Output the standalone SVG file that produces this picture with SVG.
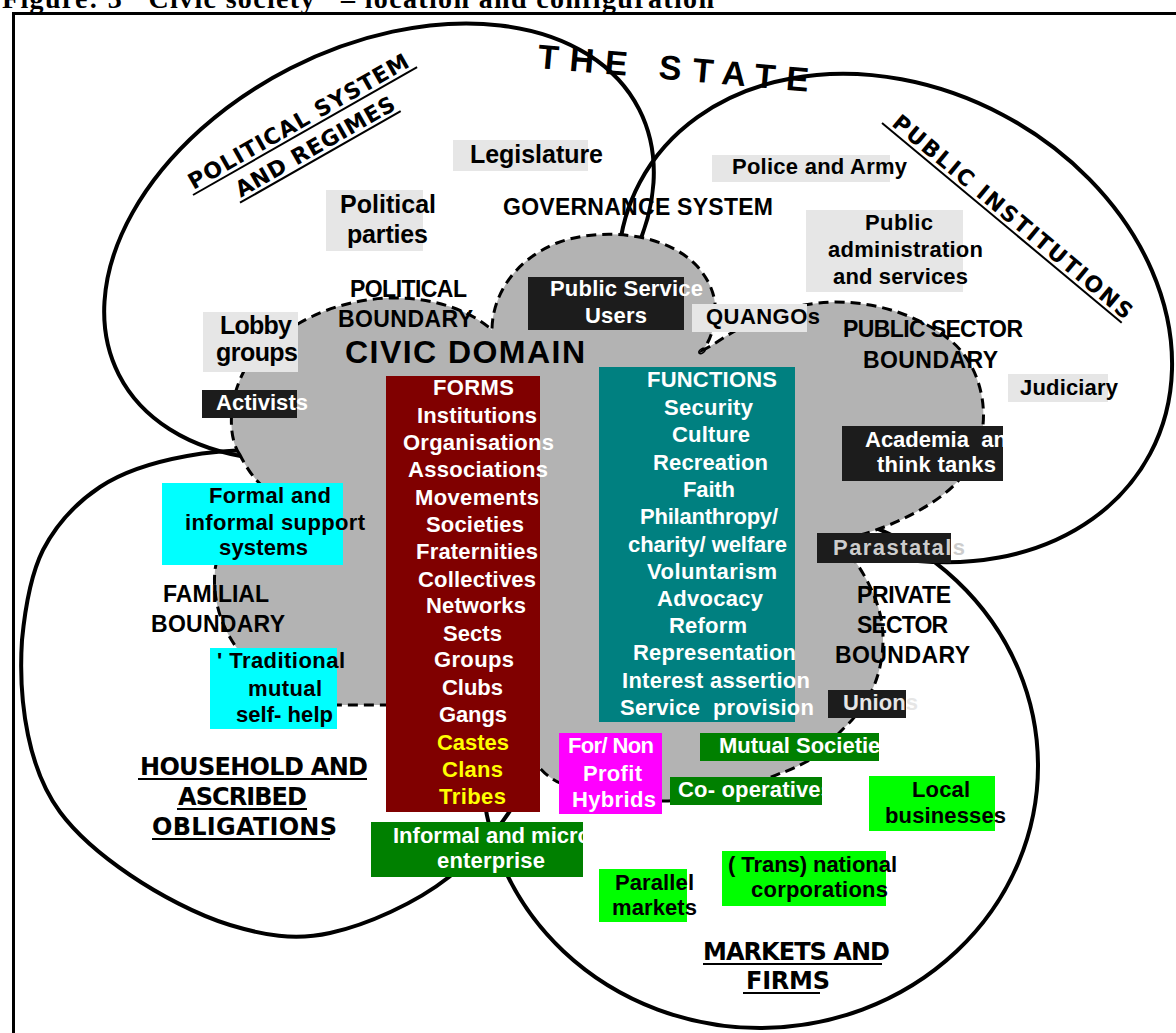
<svg xmlns="http://www.w3.org/2000/svg" width="1176" height="1033" viewBox="0 0 1176 1033">
<style>
  .el{fill:none;stroke:#000;stroke-width:4}
  .cloud{fill:#b3b3b3;stroke:#000;stroke-width:3;stroke-dasharray:10 6}
  .t{font-family:"Liberation Sans",Arial,sans-serif;font-weight:bold;font-size:22px}
  .t25{font-size:25px}
  .bd{font-family:"Liberation Sans",Arial,sans-serif;font-weight:bold;font-size:23px;fill:#000}
  .big{font-size:32px}
  .cm{font-family:"DejaVu Sans",sans-serif;font-weight:bold;font-size:22px;fill:#000}
  .cm24{font-size:24px}
  .ul{stroke:#000;stroke-width:2}
  .w{fill:#fff}.k{fill:#000}.yl{fill:#ff0}
  .lg{fill:#e6e6e6}.dk{fill:#1c1c1c}.cy{fill:#0ff}.fm{fill:#800000}.fn{fill:#008080}
  .mg{fill:#f0f}.dg{fill:#008000}.lm{fill:#0f0}
</style>

<!-- page frame and caption -->
<rect x="13.5" y="13.5" width="1200" height="1100" fill="none" stroke="#000" stroke-width="3"/>
<text x="2" y="8" font-family="Liberation Serif,serif" font-weight="bold" font-size="28" textLength="712">Figure: 3 "Civic society" – location and configuration</text>

<text x="537" y="68" transform="rotate(5 537 68)" font-family="Liberation Sans,Arial,sans-serif" font-weight="bold" font-size="34" textLength="272">THE STATE</text>

<!-- sector regions -->
<g id="regions">
  <ellipse id="political-system" class="el" cx="379" cy="242" rx="292" ry="195" transform="rotate(-27 379 242)"/>
  <ellipse id="public-institutions" class="el" cx="895" cy="318" rx="289" ry="230" transform="rotate(28 895 318)"/>
  <ellipse id="markets" class="el" cx="760" cy="766" rx="278" ry="262"/>
  <path id="household" class="el" d="M300,450 C261,449 220,450 187,456 C154,462 124,471 100,487 C76,503 56,525 43,550 C30,576 25,609 22,640 C20,671 22,706 28,735 C34,764 43,789 60,812 C77,835 102,856 130,875 C158,894 197,915 230,925 C263,935 294,941 330,933 C367,925 416,903 449,877 C482,851 512,815 530,775 C549,736 562,683 560,640 C558,598 543,550 520,520 C497,490 457,472 420,460 C383,448 339,451 300,450 Z"/>
</g>

<!-- civic domain -->
<g id="civic-domain">
  <path class="cloud" d="M240,455 C229,440 227,405 243,373 C255,350 272,335 296,325 C318,312 350,299 390,298 C432,297 470,310 492,330 C492,300 510,262 557,243 C600,227 665,232 697,266 C712,283 717,300 715,318 C713,332 709,342 703,350 C712,346 722,338 735,331 C762,315 795,303 835,302 C882,302 922,318 950,340 C975,360 986,395 983,425 C980,458 962,483 933,502 C910,517 885,528 860,535 C851,541 849,549 853,558 C872,585 884,613 883,642 C882,680 866,708 843,729 C830,742 818,755 806,762 C796,767 788,771 781,773 C745,788 705,800 668,801 C628,801 585,795 560,783 C551,779 544,773 539,767 C500,738 430,705 387,705 L337,705 C292,702 256,676 240,652 C222,630 212,600 215,570 C219,540 243,513 275,495 C260,487 249,473 240,455 Z"/>
  <ellipse cx="702" cy="351" rx="3.5" ry="2" transform="rotate(-35 702 351)" fill="none" stroke="#000" stroke-width="1.5"/>
</g>

<!-- sector titles -->
<g id="sector-titles">
  <g transform="translate(193 195) rotate(-29.7)">
    <text class="cm" x="3" y="-4" textLength="250">POLITICAL SYSTEM</text>
    <line class="ul" x1="0" y1="0" x2="258" y2="0"/>
    <text class="cm" x="40" y="26" textLength="180">AND REGIMES</text>
    <line class="ul" x1="37" y1="30" x2="222" y2="30"/>
  </g>
  <g transform="translate(882 123) rotate(39.8)">
    <text class="cm" x="8" y="-4" textLength="305">PUBLIC INSTITUTIONS</text>
    <line class="ul" x1="0" y1="0" x2="312" y2="0"/>
  </g>
  <text class="cm cm24" x="140" y="775" textLength="228">HOUSEHOLD AND</text>
  <line class="ul" x1="138" y1="779" x2="367" y2="779"/>
  <text class="cm cm24" x="178" y="805" textLength="129">ASCRIBED</text>
  <line class="ul" x1="177" y1="809" x2="307" y2="809"/>
  <text class="cm cm24" x="152" y="835" textLength="185">OBLIGATIONS</text>
  <line class="ul" x1="152" y1="839" x2="330" y2="839"/>
  <text class="cm cm24" x="703" y="960" textLength="187">MARKETS AND</text>
  <line class="ul" x1="703" y1="964" x2="882" y2="964"/>
  <text class="cm cm24" x="746" y="989" textLength="84">FIRMS</text>
  <line class="ul" x1="743" y1="993" x2="820" y2="993"/>
</g>

<!-- boundary labels -->
<g id="boundary-labels">
  <text class="bd" x="503" y="215" textLength="270">GOVERNANCE SYSTEM</text>
  <text class="bd" x="350" y="297" textLength="117">POLITICAL</text>
  <text class="bd" x="338" y="327" textLength="135">BOUNDARY</text>
  <text class="bd big" x="345" y="363" textLength="240">CIVIC DOMAIN</text>
  <text class="bd" x="843" y="337" textLength="180">PUBLIC SECTOR</text>
  <text class="bd" x="863" y="368" textLength="135">BOUNDARY</text>
  <text class="bd" x="857" y="603" textLength="94">PRIVATE</text>
  <text class="bd" x="857" y="633" textLength="91">SECTOR</text>
  <text class="bd" x="835" y="663" textLength="135">BOUNDARY</text>
  <text class="bd" x="163" y="602" textLength="106">FAMILIAL</text>
  <text class="bd" x="151" y="632" textLength="134">BOUNDARY</text>
</g>

<!-- state institutions -->
<g id="legislature"><rect class="lg" x="453" y="140" width="135" height="31"/><text class="t t25 k" x="470" y="163" textLength="133">Legislature</text></g>
<g id="political-parties"><rect class="lg" x="326" y="190" width="97" height="61"/><text class="t t25 k" x="340" y="213" textLength="96">Political</text><text class="t t25 k" x="347" y="243" textLength="81">parties</text></g>
<g id="lobby-groups"><rect class="lg" x="203" y="312" width="95" height="60"/><text class="t t25 k" x="220" y="334" textLength="72">Lobby</text><text class="t t25 k" x="216" y="361" textLength="82">groups</text></g>
<g id="police-army"><rect class="lg" x="712" y="155" width="178" height="27"/><text class="t k" x="732" y="174" textLength="175">Police and Army</text></g>
<g id="public-administration"><rect class="lg" x="806" y="210" width="157" height="82"/><text class="t k" x="865" y="230" textLength="68">Public</text><text class="t k" x="828" y="257" textLength="155">administration</text><text class="t k" x="833" y="284" textLength="135">and services</text></g>
<g id="quangos"><rect class="lg" x="692" y="304" width="115" height="28"/><text class="t k" x="706" y="324" textLength="114">QUANGOs</text></g>
<g id="judiciary"><rect class="lg" x="1008" y="374" width="100" height="28"/><text class="t k" x="1020" y="395" textLength="98">Judiciary</text></g>

<!-- actors at the boundaries -->
<g id="public-service-users"><rect class="dk" x="528" y="277" width="156" height="53"/><text class="t w" x="550" y="296" textLength="153">Public Service</text><text class="t w" x="585" y="323" textLength="62">Users</text></g>
<g id="activists"><rect class="dk" x="202" y="390" width="95" height="28"/><text class="t w" x="216" y="410" textLength="92">Activists</text></g>
<g id="academia"><rect class="dk" x="842" y="426" width="161" height="55"/><text class="t w" x="865" y="447" xml:space="preserve">Academia  and</text><text class="t w" x="877" y="472" textLength="119">think tanks</text></g>
<g id="parastatals"><rect class="dk" x="817" y="533" width="134" height="30"/><text class="t" fill="#cdcdcd" x="833" y="555" textLength="132">Parastatals</text></g>
<g id="unions"><rect class="dk" x="828" y="690" width="78" height="28"/><text class="t" fill="#e6e6e6" x="843" y="710" textLength="75">Unions</text></g>

<!-- familial forms -->
<g id="support-systems"><rect class="cy" x="162" y="483" width="181" height="82"/><text class="t k" x="209" y="503" textLength="122">Formal and</text><text class="t k" x="185" y="530" textLength="180">informal support</text><text class="t k" x="219" y="555" textLength="89">systems</text></g>
<g id="mutual-self-help"><rect class="cy" x="210" y="648" width="127" height="81"/><text class="t k" x="217" y="668" textLength="128">' Traditional</text><text class="t k" x="248" y="696" textLength="74">mutual</text><text class="t k" x="236" y="722" textLength="97">self- help</text></g>

<!-- forms of civil society -->
<g id="forms">
  <rect class="fm" x="386" y="376" width="154" height="436"/>
  <text class="t w" x="433" y="395" textLength="81">FORMS</text>
  <text class="t w" x="417" y="423" textLength="120">Institutions</text>
  <text class="t w" x="403" y="450" textLength="151">Organisations</text>
  <text class="t w" x="408" y="477" textLength="140">Associations</text>
  <text class="t w" x="415" y="505" textLength="124">Movements</text>
  <text class="t w" x="426" y="532" textLength="98">Societies</text>
  <text class="t w" x="416" y="559" textLength="122">Fraternities</text>
  <text class="t w" x="418" y="587" textLength="118">Collectives</text>
  <text class="t w" x="426" y="613" textLength="100">Networks</text>
  <text class="t w" x="443" y="641" textLength="59">Sects</text>
  <text class="t w" x="434" y="667" textLength="80">Groups</text>
  <text class="t w" x="442" y="695" textLength="61">Clubs</text>
  <text class="t w" x="439" y="722" textLength="68">Gangs</text>
  <text class="t yl" x="437" y="750" textLength="72">Castes</text>
  <text class="t yl" x="442" y="777" textLength="61">Clans</text>
  <text class="t yl" x="439" y="804" textLength="67">Tribes</text>
</g>

<!-- functions of civil society -->
<g id="functions">
  <rect class="fn" x="599" y="367" width="196" height="355"/>
  <text class="t w" x="647" y="387" textLength="130">FUNCTIONS</text>
  <text class="t w" x="664" y="415" textLength="89">Security</text>
  <text class="t w" x="672" y="442" textLength="78">Culture</text>
  <text class="t w" x="653" y="470" textLength="115">Recreation</text>
  <text class="t w" x="683" y="497" textLength="52">Faith</text>
  <text class="t w" x="640" y="524" textLength="138">Philanthropy/</text>
  <text class="t w" x="628" y="552" textLength="159">charity/ welfare</text>
  <text class="t w" x="647" y="579" textLength="130">Voluntarism</text>
  <text class="t w" x="657" y="606" textLength="106">Advocacy</text>
  <text class="t w" x="669" y="633" textLength="78">Reform</text>
  <text class="t w" x="633" y="660" textLength="163">Representation</text>
  <text class="t w" x="622" y="688" textLength="188">Interest assertion</text>
  <text class="t w" x="620" y="715" textLength="194" xml:space="preserve">Service  provision</text>
</g>

<!-- market forms -->
<g id="hybrids"><rect class="mg" x="559" y="733" width="103" height="81"/><text class="t w" x="568" y="753" textLength="86">For/ Non</text><text class="t w" x="583" y="781" textLength="59">Profit</text><text class="t w" x="572" y="807" textLength="84">Hybrids</text></g>
<g id="mutual-societies"><rect class="dg" x="700" y="733" width="179" height="28"/><text class="t w" x="719" y="753">Mutual Societies</text></g>
<g id="co-operatives"><rect class="dg" x="670" y="777" width="152" height="28"/><text class="t w" x="678" y="797" textLength="155">Co- operatives</text></g>
<g id="micro-enterprise"><rect class="dg" x="371" y="822" width="212" height="55"/><text class="t w" x="393" y="843">Informal and micro</text><text class="t w" x="437" y="868" textLength="108">enterprise</text></g>
<g id="local-businesses"><rect class="lm" x="869" y="776" width="126" height="55"/><text class="t k" x="912" y="797" textLength="58">Local</text><text class="t k" x="885" y="823" textLength="121">businesses</text></g>
<g id="parallel-markets"><rect class="lm" x="599" y="869" width="88" height="53"/><text class="t k" x="615" y="890" textLength="79">Parallel</text><text class="t k" x="612" y="915" textLength="85">markets</text></g>
<g id="corporations"><rect class="lm" x="722" y="851" width="164" height="55"/><text class="t k" x="728" y="872" textLength="169">( Trans) national</text><text class="t k" x="751" y="897" textLength="137">corporations</text></g>
</svg>
